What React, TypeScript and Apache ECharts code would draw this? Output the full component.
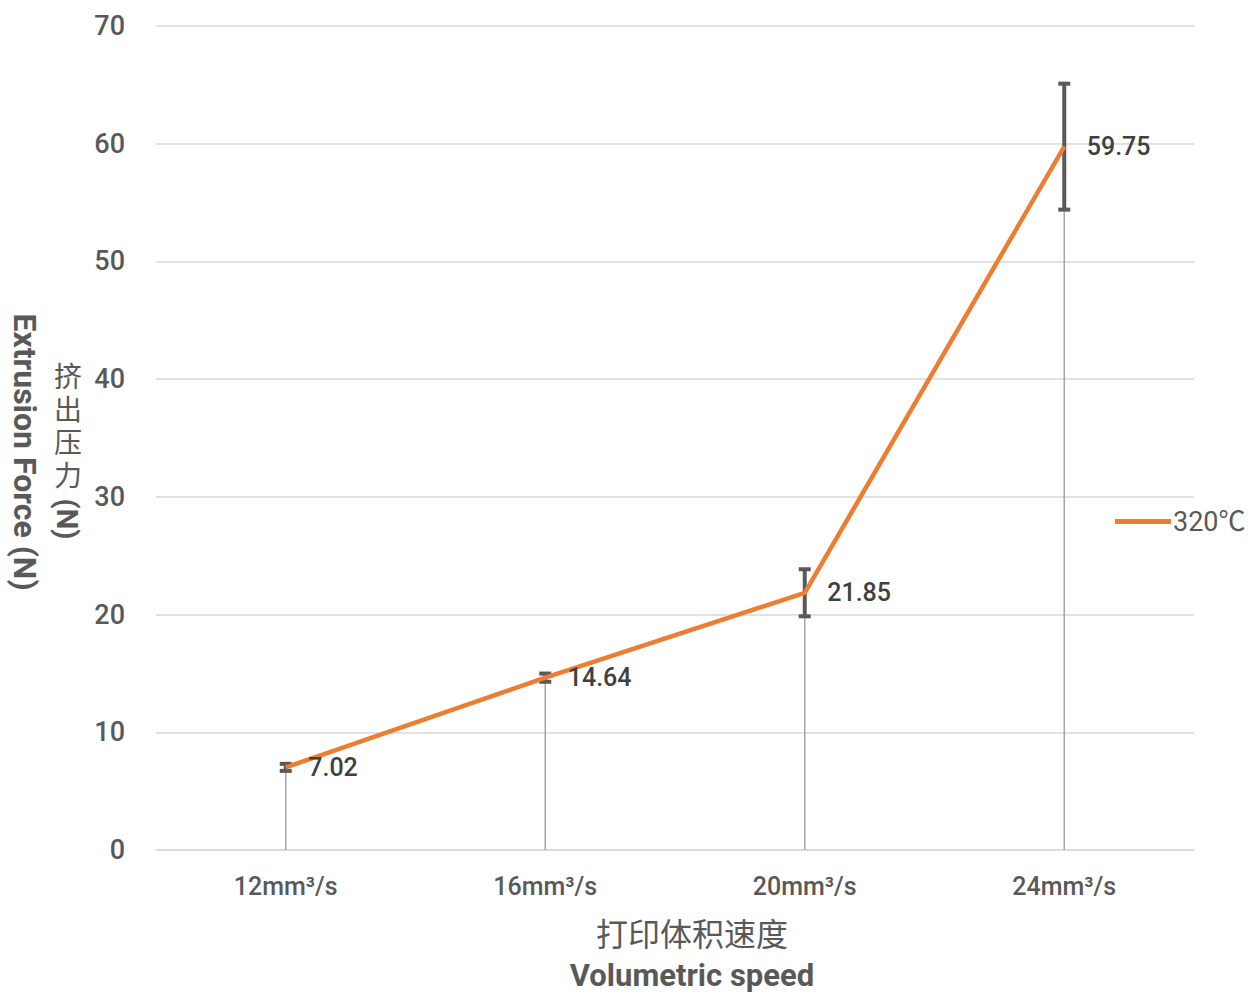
import React, { useEffect, useRef } from "react";
import * as echarts from "echarts";

const categories = ["12mm³/s", "16mm³/s", "20mm³/s", "24mm³/s"];
const forceValues = [7.02, 14.64, 21.85, 59.75];
const errorValues = [0.3, 0.35, 2.0, 5.35];
const seriesName = "320℃";
const yTicks = { min: 0, max: 70, interval: 10 };
const yTitleChars = ["挤", "出", "压", "力"];

export default function App() {
  const ref = useRef<HTMLDivElement>(null);
  useEffect(() => {
    if (!ref.current) return;
    const chart = echarts.init(ref.current, undefined, { renderer: "svg" });
    const font = "Roboto, 'Noto Sans CJK SC', sans-serif";
    const errData = forceValues.map((v, i) => [i, v, errorValues[i]]);
    const charTexts = yTitleChars.map((c, k) => ({
      type: "text",
      x: 68,
      y: 377 + k * 33,
      style: {
        text: c,
        fill: "#595959",
        font: "28px Roboto, 'Noto Sans CJK SC', sans-serif",
        textAlign: "center",
        textVerticalAlign: "middle",
      },
    }));
    chart.setOption({
      animation: false,
      backgroundColor: "#ffffff",
      textStyle: { fontFamily: font },
      grid: { left: 156, right: 65, top: 26, bottom: 144, containLabel: false },
      legend: {
        left: 1115,
        top: 508,
        padding: 0,
        data: [{ name: seriesName, icon: "rect" }],
        itemWidth: 56,
        itemHeight: 5,
        textStyle: { color: "#595959", fontSize: 27, fontFamily: font, padding: [0, 0, 0, -3] },
      },
      xAxis: {
        type: "category",
        data: categories,
        boundaryGap: true,
        axisLine: { lineStyle: { color: "#d9d9d9", width: 1.5 } },
        axisTick: { show: false },
        axisLabel: { color: "#595959", fontSize: 25, fontWeight: 500, margin: 24, fontFamily: font },
      },
      yAxis: {
        type: "value",
        min: yTicks.min,
        max: yTicks.max,
        interval: yTicks.interval,
        axisLine: { show: false },
        axisTick: { show: false },
        splitLine: { lineStyle: { color: "#d9d9d9", width: 1.5 } },
        axisLabel: { color: "#595959", fontSize: 27, fontWeight: 500, margin: 31, fontFamily: font },
      },
      graphic: [
        {
          type: "text",
          x: 692,
          y: 932,
          style: {
            text: "打印体积速度",
            fill: "#595959",
            font: "32px 'Noto Sans CJK SC', sans-serif",
            textAlign: "center",
            textVerticalAlign: "middle",
          },
        },
        {
          type: "text",
          x: 692,
          y: 975,
          style: {
            text: "Volumetric speed",
            fill: "#595959",
            font: "bold 31px Roboto, sans-serif",
            textAlign: "center",
            textVerticalAlign: "middle",
          },
        },
        {
          type: "text",
          x: 25,
          y: 452,
          rotation: -Math.PI / 2,
          style: {
            text: "Extrusion Force (N)",
            fill: "#595959",
            font: "bold 32px Roboto, sans-serif",
            textAlign: "center",
            textVerticalAlign: "middle",
          },
        },
        ...charTexts,
        {
          type: "text",
          x: 67,
          y: 519,
          rotation: -Math.PI / 2,
          style: {
            text: "(N)",
            fill: "#595959",
            font: "bold 29px Roboto, sans-serif",
            textAlign: "center",
            textVerticalAlign: "middle",
          },
        },
      ],
      series: [
        {
          type: "custom",
          name: "errors",
          z: 1,
          data: errData,
          renderItem: (params: any, api: any) => {
            const i = api.value(0);
            const v = api.value(1);
            const e = api.value(2);
            const p = api.coord([i, v]);
            const base = api.coord([i, 0]);
            const top = api.coord([i, v + e]);
            const bot = api.coord([i, v - e]);
            const cap = 6;
            const st = { stroke: "#595959", lineWidth: 4 };
            return {
              type: "group",
              children: [
                {
                  type: "line",
                  shape: { x1: p[0], y1: p[1], x2: base[0], y2: base[1] },
                  style: { stroke: "#a5a5a5", lineWidth: 1.5 },
                },
                {
                  type: "line",
                  shape: { x1: top[0], y1: top[1], x2: bot[0], y2: bot[1] },
                  style: st,
                },
                {
                  type: "line",
                  shape: { x1: top[0] - cap, y1: top[1], x2: top[0] + cap, y2: top[1] },
                  style: st,
                },
                {
                  type: "line",
                  shape: { x1: bot[0] - cap, y1: bot[1], x2: bot[0] + cap, y2: bot[1] },
                  style: st,
                },
              ],
            };
          },
        },
        {
          type: "line",
          name: seriesName,
          z: 3,
          data: forceValues,
          symbol: "circle",
          symbolSize: 1,
          showSymbol: true,
          lineStyle: { color: "#ED7D31", width: 4.5 },
          itemStyle: { color: "#ED7D31" },
          label: {
            show: true,
            position: "right",
            distance: 22,
            color: "#404040",
            fontSize: 25,
            fontWeight: 500,
            fontFamily: font,
            formatter: (p: any) => Number(p.value).toFixed(2),
          },
        },
      ],
    });
    return () => chart.dispose();
  }, []);
  return (
    <div
      ref={ref}
      style={{ position: "fixed", left: 0, top: 0, width: 1259, height: 994 }}
    />
  );
}
